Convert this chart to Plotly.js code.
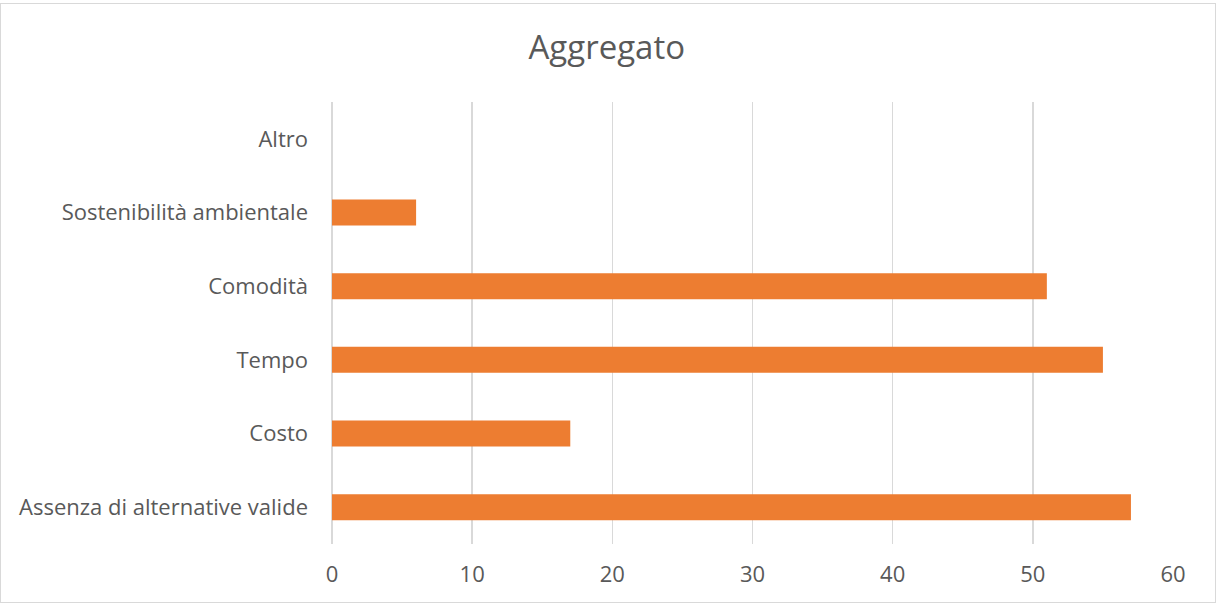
<!DOCTYPE html>
<html>
<head>
<meta charset="utf-8">
<script src="https://cdn.plot.ly/plotly-3.0.1.min.js"></script>
<style>
html,body{margin:0;padding:0;background:#fff;}
#wrap{position:absolute;left:0;top:3px;width:1214px;height:598px;border:1px solid #D9D9D9;}
#chart{position:absolute;left:0;top:0;width:1216px;height:603px;}
</style>
</head>
<body>
<div id="wrap"></div>
<div id="chart"></div>
<script>
const categories = ["Assenza di alternative valide", "Costo", "Tempo", "Comodità", "Sostenibilità ambientale", "Altro"];
const values = [57, 17, 55, 51, 6, 0];
const xTicks = [0, 10, 20, 30, 40, 50, 60];
const chartTitle = "Aggregato";

const fontFam = "'Open Sans', 'Noto Sans', sans-serif";
const data = [{
  type: 'bar',
  orientation: 'h',
  x: values,
  y: categories,
  marker: {color: '#ED7D31', line: {width: 0}},
  hoverinfo: 'x+y'
}];
const layout = {
  width: 1216, height: 603,
  paper_bgcolor: 'rgba(0,0,0,0)', plot_bgcolor: 'rgba(0,0,0,0)',
  margin: {l: 332, r: 43, t: 102, b: 59},
  bargap: 0.647,
  showlegend: false,
  title: {text: chartTitle, font: {family: fontFam, size: 33, color: '#595959'}, x: 0.499, xanchor: 'center', xref: 'container', y: 0.922, yanchor: 'middle'},
  xaxis: {
    range: [0, 60], tickvals: xTicks, ticktext: xTicks.map(String),
    showgrid: true, gridcolor: '#D9D9D9', gridwidth: 1.5,
    zeroline: true, zerolinecolor: '#D9D9D9', zerolinewidth: 1.5,
    showline: false, ticks: '', ticklabelstandoff: 15,
    tickfont: {family: fontFam, size: 22, color: '#595959'},
    fixedrange: true
  },
  yaxis: {
    type: 'category', categoryorder: 'array', categoryarray: categories,
    showgrid: false, zeroline: false, showline: false, ticks: '',
    ticklabelstandoff: 23,
    tickfont: {family: fontFam, size: 22, color: '#595959'},
    fixedrange: true
  }
};
Plotly.newPlot('chart', data, layout, {displayModeBar: false, staticPlot: true});
</script>
</body>
</html>
